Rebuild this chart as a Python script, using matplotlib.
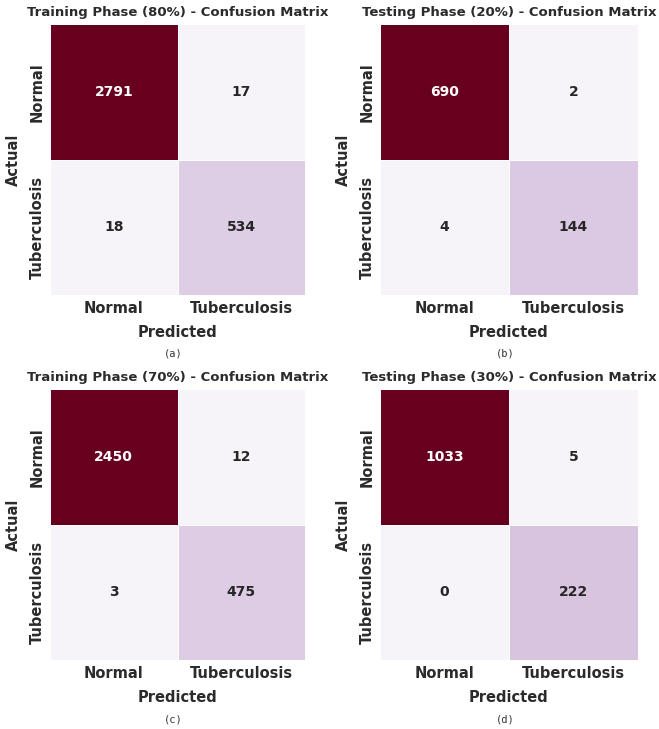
import matplotlib
matplotlib.use("Agg")
import matplotlib.pyplot as plt
import numpy as np
import seaborn as sns

classes = ["Normal", "Tuberculosis"]

cm_train_80 = [[2791, 17], [18, 534]]
cm_test_20 = [[690, 2], [4, 144]]
cm_train_70 = [[2450, 12], [3, 475]]
cm_test_30 = [[1033, 5], [0, 222]]

titles = [
    "Training Phase (80%) - Confusion Matrix",
    "Testing Phase (20%) - Confusion Matrix",
    "Training Phase (70%) - Confusion Matrix",
    "Testing Phase (30%) - Confusion Matrix",
]
captions = ["(a)", "(b)", "(c)", "(d)"]
matrices = [cm_train_80, cm_test_20, cm_train_70, cm_test_30]

sns.set_style("white")
plt.rcParams['font.family'] = ['DejaVu Sans']
text_col = "#2b2b2b"

W, H = 659, 729
fig = plt.figure(figsize=(W / 100, H / 100), dpi=100)

# axes boxes in pixels: left, top, right, bottom
boxes = [
    (50, 24, 305, 295),
    (380, 24, 638, 295),
    (50, 389, 305, 660),
    (380, 389, 638, 660),
]

for cm, title, cap, (l, t, r, b) in zip(matrices, titles, captions, boxes):
    ax = fig.add_axes([l / W, (H - b) / H, (r - l) / W, (b - t) / H])
    sns.heatmap(np.array(cm), annot=True, fmt="d", cmap="PuRd", cbar=False,
                linewidths=0.6, linecolor="white", ax=ax,
                annot_kws={"size": 10, "weight": "bold"},
                xticklabels=classes, yticklabels=classes)
    ax.set_title(title, fontsize=9.5, fontweight="bold", color=text_col, pad=6)
    ax.set_xlabel("Predicted", fontsize=10.5, fontweight="bold", color=text_col, labelpad=7)
    ax.set_ylabel("Actual", fontsize=10.5, fontweight="bold", color=text_col, labelpad=6)
    ax.tick_params(axis="both", length=0, labelsize=10.5, colors=text_col, pad=4)
    for lab in ax.get_xticklabels():
        lab.set_fontweight("bold")
    for lab in ax.get_yticklabels():
        lab.set_fontweight("bold")
        lab.set_rotation(90)
        lab.set_va("center")
    fig.text(((l + r) / 2 - 4) / W, 1 - (b + 59) / H, cap, ha="center", va="center",
             fontsize=7.5, family="DejaVu Sans Mono", color="#333333")

fig.savefig("out.png", dpi=100)
